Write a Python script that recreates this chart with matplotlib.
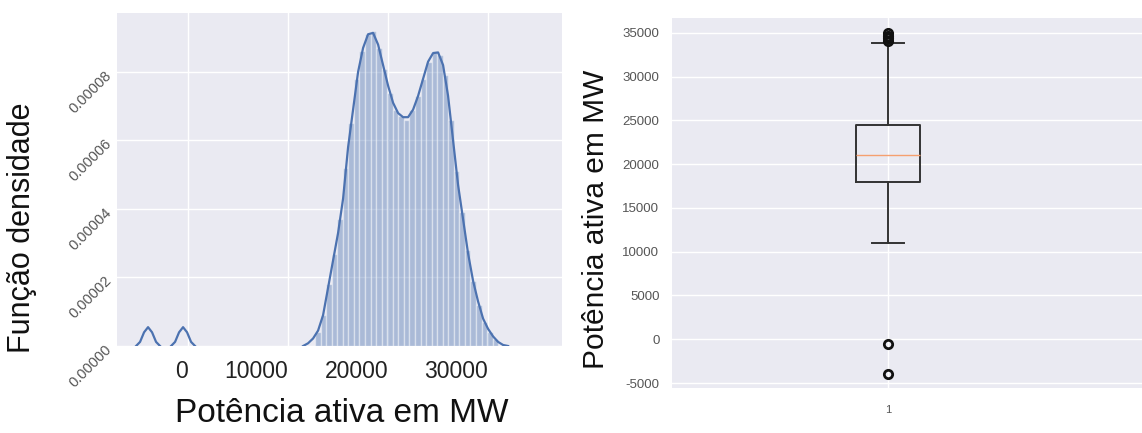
import matplotlib.pyplot as plt
import numpy as np

# densidade (histograma normalizado) da potência ativa, em MW
bin_edges = np.linspace(12700, 31015, 34)
hist_density_e5 = [0.40, 0.90, 1.80, 2.70, 3.70, 5.20, 6.50, 7.80, 8.60, 9.10,
                   9.20, 8.70, 8.10, 7.40, 6.90, 6.70, 6.60, 6.90, 7.30, 7.80,
                   8.30, 8.60, 8.50, 7.90, 6.60, 5.10, 3.90, 2.80, 1.90, 1.20,
                   0.70, 0.40, 0.20]

# curva kde (nan separa os trechos)
kde_x = [-5200, -4800, -4400, -4000, -3600, -3200, -2800, np.nan,
         -1700, -1300, -900, -500, -100, 300, 700, np.nan,
         11500, 12000, 12500, 13000, 13500, 14000, 14500, 15000, 15500, 16000,
         16500, 17000, 17500, 18000, 18500, 19000, 19500, 20000, 20500, 21000,
         21500, 22000, 22500, 23000, 23500, 24000, 24500, 25000, 25500, 26000,
         26500, 27000, 27500, 28000, 28500, 29000, 29500, 30000, 30500, 31000,
         31500, 32000]
kde_density_e5 = [0, 0.12, 0.40, 0.55, 0.40, 0.12, 0, np.nan,
                  0, 0.12, 0.40, 0.55, 0.40, 0.12, 0, np.nan,
                  0, 0.08, 0.22, 0.45, 0.90, 1.70, 2.50, 3.30, 4.30, 5.80,
                  6.90, 8.00, 8.70, 9.10, 9.14, 8.80, 8.20, 7.60, 7.10, 6.80,
                  6.68, 6.68, 6.90, 7.30, 7.80, 8.30, 8.55, 8.57, 8.20, 7.30,
                  6.00, 4.70, 3.70, 2.70, 1.90, 1.30, 0.80, 0.50, 0.28, 0.12,
                  0.03, 0]

density_ticks = [0, 2e-5, 4e-5, 6e-5, 8e-5]
power_ticks = [0, 10000, 20000, 30000]

# estatísticas do boxplot
box_stats = {
    "med": 21000, "q1": 18000, "q3": 24500,
    "whislo": 11000, "whishi": 33900,
    "fliers": [34100, 34400, 34700, 35000, -500, -4000],
}
box_ticks = list(range(-5000, 35001, 5000))

bg = "#EAEAF2"
blue = "#4C72B0"
label_font = "Liberation Sans"

fig = plt.figure(figsize=(11.42, 4.33), dpi=100)

# --- distribuição ---
ax1 = fig.add_axes([0.1025, 0.2009, 0.3897, 0.769])
ax1.set_facecolor(bg)
ax1.grid(True, color="white", linewidth=1.0)
ax1.set_axisbelow(True)
for s in ax1.spines.values():
    s.set_visible(False)

ax1.bar(bin_edges[:-1], np.array(hist_density_e5) * 1e-5, width=np.diff(bin_edges),
        align="edge", color=blue, alpha=0.4, edgecolor="white", linewidth=1)
ax1.plot(kde_x, np.array(kde_density_e5) * 1e-5, color=blue, linewidth=1.6)

ax1.set_xlim(-7100, 37400)
ax1.set_ylim(0, 9.72e-5)
ax1.set_xticks(power_ticks)
ax1.set_xticklabels([str(v) for v in power_ticks], fontsize=16.5, ha="right",
                    color="#222222", family=label_font)
ax1.set_yticks(density_ticks)
ax1.set_yticklabels([f"{v:.5f}" for v in density_ticks], fontsize=10.5,
                    rotation=45, ha="right", rotation_mode="anchor",
                    color="#555555", family=label_font)
ax1.tick_params(axis="both", length=0)
ax1.tick_params(axis="x", pad=10)
ax1.tick_params(axis="y", pad=6)

ax1.set_xlabel("Potência ativa em MW", fontsize=24, family=label_font, color="#111111")
ax1.xaxis.set_label_coords(0.506, -0.156)
ax1.set_ylabel("Função densidade", fontsize=22, family=label_font, color="#111111")
ax1.yaxis.set_label_coords(-0.18, 0.354)

# --- boxplot ---
ax2 = fig.add_axes([0.5884, 0.1039, 0.4116, 0.8545])
ax2.set_facecolor(bg)
ax2.grid(True, color="white", linewidth=1.0)
ax2.set_axisbelow(True)
for s in ax2.spines.values():
    s.set_visible(False)

line_kw = dict(color="#333333", linewidth=1.4)
ax2.bxp([box_stats], positions=[1], widths=0.15,
        boxprops=line_kw, whiskerprops=line_kw, capprops=line_kw,
        medianprops=dict(color="#F5A070", linewidth=1.0),
        flierprops=dict(marker="o", markerfacecolor="none",
                        markeredgecolor="#111111", markersize=6,
                        markeredgewidth=2))

ax2.set_xlim(0.5, 1.588)
ax2.set_ylim(-5570, 36700)
ax2.set_yticks(box_ticks)
ax2.set_yticklabels([str(v) for v in box_ticks], fontsize=9.5, color="#555555",
                    family=label_font)
ax2.set_xticks([1])
ax2.set_xticklabels(["1"], fontsize=8, color="#555555", family=label_font)
ax2.tick_params(axis="both", length=0)
ax2.tick_params(axis="y", pad=9)
ax2.tick_params(axis="x", pad=12)

ax2.set_ylabel("Potência ativa em MW", fontsize=21.5, family=label_font, color="#111111")
ax2.yaxis.set_label_coords(-0.132, 0.457)

fig.savefig("out.png", dpi=100)
